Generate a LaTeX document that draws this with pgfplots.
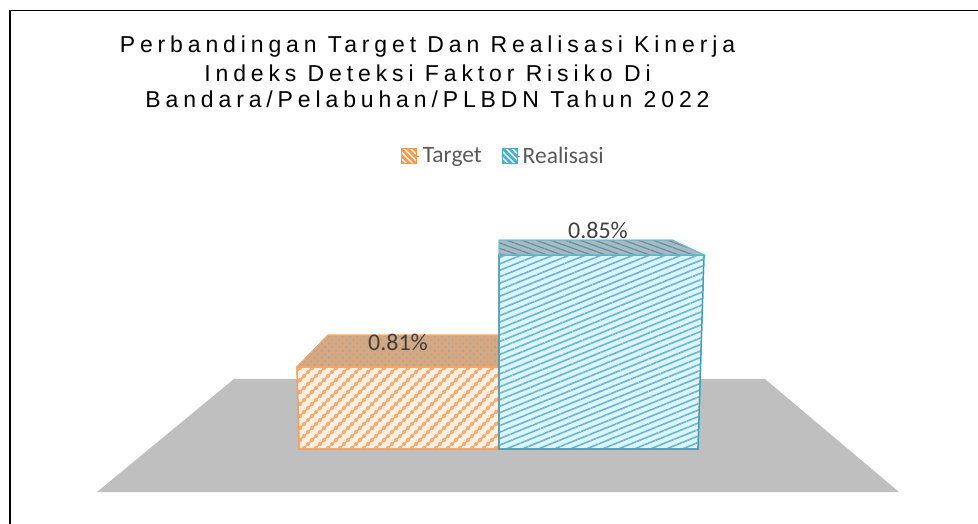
\documentclass[border=0pt]{standalone}
\usepackage{fontspec}
\usepackage{pgfplots}
\pgfplotsset{compat=1.18}
\usetikzlibrary{patterns,patterns.meta}
\setmainfont{Carlito}
\newfontfamily\titlefont[LetterSpace=21.2]{Liberation Sans}
\definecolor{oedge}{HTML}{F79646}
\definecolor{bedge}{HTML}{4BACC6}
\definecolor{ofill}{HTML}{FDEFE3}
\definecolor{bfill}{HTML}{DDF4FB}
\definecolor{otop}{HTML}{D6A880}
\definecolor{btop}{HTML}{A9BAC0}
\definecolor{floorc}{HTML}{BFBFBF}
\pgfdeclarepatternformonly{dothatch}{\pgfqpoint{-3pt}{-3pt}}{\pgfqpoint{15pt}{15pt}}{\pgfqpoint{12pt}{12pt}}{%
  \pgfsetlinewidth{1.1pt}%
  \pgfpathmoveto{\pgfqpoint{-3pt}{-3pt}}\pgfpathlineto{\pgfqpoint{15pt}{15pt}}\pgfusepath{stroke}%
  \pgfpathcircle{\pgfqpoint{0pt}{0pt}}{2pt}\pgfpathcircle{\pgfqpoint{4pt}{4pt}}{2pt}%
  \pgfpathcircle{\pgfqpoint{8pt}{8pt}}{2pt}\pgfpathcircle{\pgfqpoint{12pt}{12pt}}{2pt}%
  \pgfusepath{fill}}
\begin{document}
\begin{tikzpicture}
\path[use as bounding box] (0,0) rectangle (978pt,524pt);
\begin{axis}[
  at={(0,0)}, anchor=south west,
  scale only axis, width=978pt, height=524pt,
  xmin=0, xmax=978, ymin=0.753914, ymax=0.941057,
  axis lines=none, clip=false,
  legend style={at={(axis cs:503,0.88535)}, anchor=center, draw=none, fill=none,
    font=\fontsize{23.5}{26}\selectfont, text=black!65, legend columns=2,
    /tikz/every even column/.append style={column sep=18pt},
    inner sep=0pt, outer sep=0pt},
  legend cell align=left,
  legend image code/.code={\path (0pt,0pt) -- (18pt,0pt);\draw[#1] (0pt,-7.5pt) rectangle (15pt,7.5pt);},
]
% floor
\addplot[draw=none, fill=floorc, forget plot] coordinates {(234,0.8057) (765,0.8057) (899,0.76534) (97,0.76534)} -- cycle;
% Target front
\addplot[draw=oedge!90, line width=1.4pt, fill=ofill, forget plot,
  postaction={pattern=dothatch, pattern color=oedge!80}]
  coordinates {(297,0.81) (499,0.81) (499,0.7807) (299,0.7807)} -- cycle;
% Target top
\addplot[draw=oedge!85, line width=1pt, fill=otop, forget plot,
  postaction={pattern={Dots[distance=5pt,radius=1.1pt,angle=45]}, pattern color=black!35}]
  coordinates {(297,0.81) (328,0.82141) (499,0.82141) (499,0.81)} -- cycle;
% Realisasi front
\addplot[draw=bedge!90!black, line width=1.2pt, fill=bfill, forget plot,
  postaction={pattern={Lines[angle=22,distance=6pt,line width=1.6pt]}, pattern color=bedge!85}]
  coordinates {(499,0.85) (704,0.85) (698,0.7807) (499,0.7807)} -- cycle;
% Realisasi top
\addplot[draw=bedge!80, line width=1pt, fill=btop, forget plot,
  postaction={pattern={Lines[angle=-20,distance=5pt,line width=1.2pt]}, pattern color=bedge!70!black!80}]
  coordinates {(499,0.85) (499,0.85534) (672,0.85534) (704,0.85)} -- cycle;
% labels
\addplot[draw=none, forget plot, point meta=explicit symbolic, nodes near coords,
  nodes near coords style={anchor=center, yshift=25pt, font=\fontsize{24}{26}\selectfont, text=black!75}]
  coordinates {(398,0.81) [0.81\%] (598,0.85) [0.85\%]};
% legend
\addlegendimage{draw=oedge, line width=0.9pt, fill=ofill, postaction={pattern={Lines[angle=-45,distance=4.5pt,line width=2.6pt]}, pattern color=oedge}}
\addlegendentry{Target}
\addlegendimage{draw=bedge, line width=0.9pt, fill=bfill, postaction={pattern={Lines[angle=-45,distance=4.5pt,line width=2.6pt]}, pattern color=bedge}}
\addlegendentry{Realisasi}
\end{axis}
\draw[line width=1.6pt] (9.7pt,0) -- (9.7pt,513.5pt) -- (978pt,513.5pt);
\node[anchor=base, inner sep=0pt] at (427.5pt,471pt) {\titlefont\fontsize{23}{25}\selectfont Perbandingan Target Dan Realisasi Kinerja};
\node[anchor=base, inner sep=0pt] at (427.5pt,442.5pt) {\titlefont\fontsize{23}{25}\selectfont Indeks Deteksi Faktor Risiko Di};
\node[anchor=base, inner sep=0pt] at (427.5pt,416pt) {\titlefont\fontsize{23}{25}\selectfont Bandara/Pelabuhan/PLBDN Tahun 2022};
\end{tikzpicture}
\end{document}
